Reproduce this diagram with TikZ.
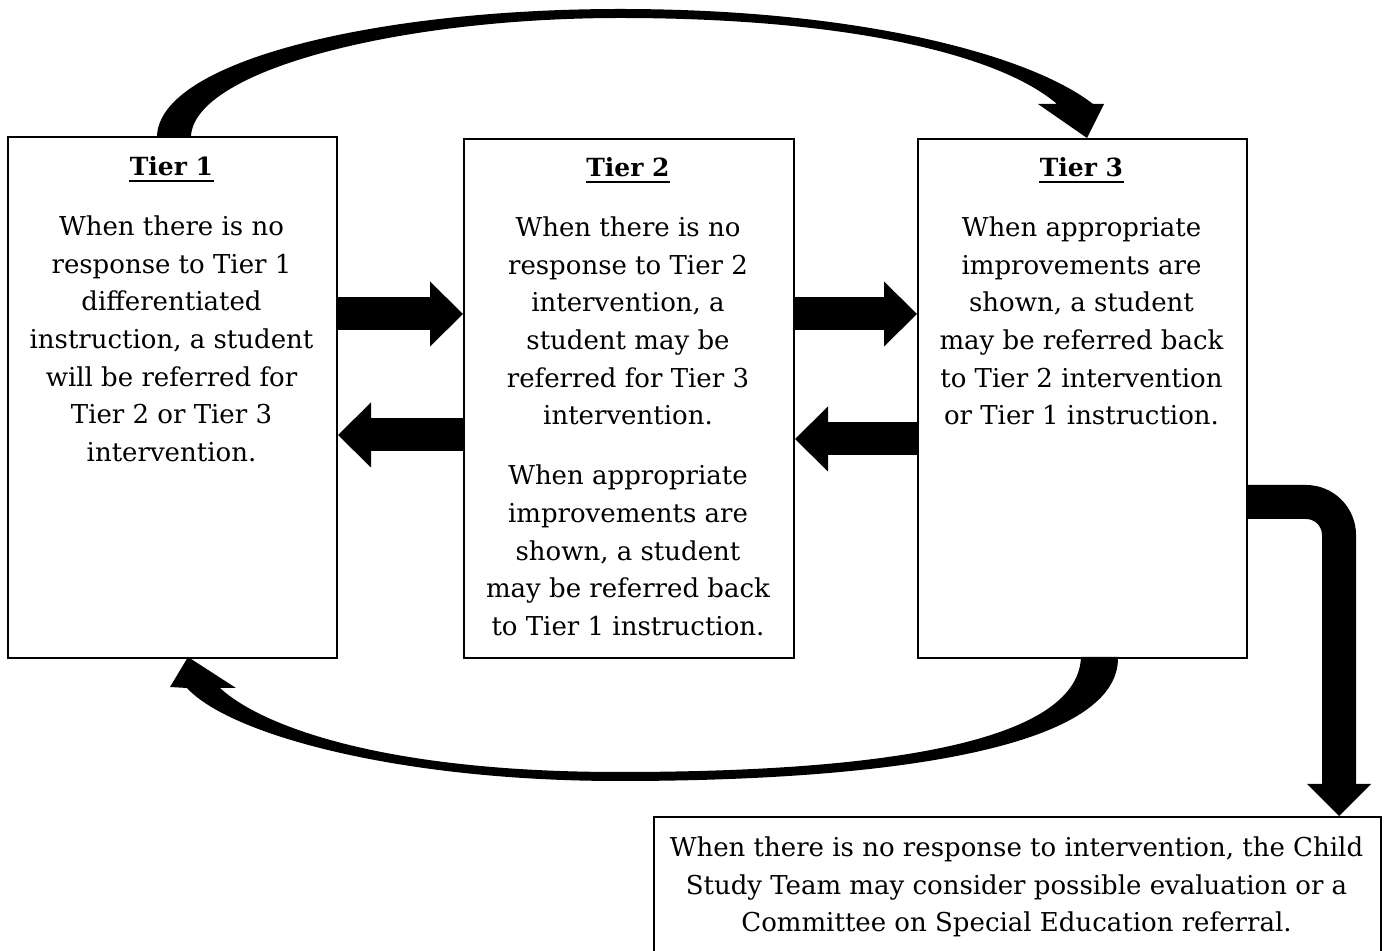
\documentclass[tikz,border=0pt]{standalone}
\usepackage{fontspec}
\setmainfont{DejaVu Serif}
\usetikzlibrary{arrows.meta,calc}
\tikzset{
  box/.style={draw, line width=1pt, inner sep=0pt, anchor=north west},
  tiertitle/.style={font=\bfseries\fontsize{12.5}{15}\selectfont, inner sep=0pt, anchor=base},
  body/.style={font=\fontsize{13}{18.85}\selectfont, inner sep=0pt, anchor=north, align=center},
  blockarrow/.style={line width=16.5pt, -{Triangle[length=16.5pt,width=32.5pt,line width=0pt]}},
  elbowarrow/.style={line width=17pt, rounded corners=16.5pt, -{Triangle[length=16pt,width=32pt,line width=0pt]}},
  taper/.style={fill=black, draw=none},
  uline/.style={line width=1pt},
}
\begin{document}
\begin{tikzpicture}[x=0.5pt,y=-0.5pt]
\clip (0,0) rectangle (1388,951);
\fill[white] (0,0) rectangle (1388,951);

% boxes
\node[box, minimum width=164.5pt, minimum height=260.5pt] (t1) at (7,136) {};
\node[box, minimum width=165pt, minimum height=259.5pt] (t2) at (463,138) {};
\node[box, minimum width=164.5pt, minimum height=259.5pt] (t3) at (917,138) {};
\node[box, minimum width=363.5pt, minimum height=80pt] (bot) at (653,816) {};

% titles
\node[tiertitle] (t1t) at (171.5,176) {Tier 1};
\node[tiertitle] (t2t) at (628,177) {Tier 2};
\node[tiertitle] (t3t) at (1081.5,177) {Tier 3};
\draw[uline] ($(t1t.base west)+(0,5)$) -- ($(t1t.base east)+(0,5)$);
\draw[uline] ($(t2t.base west)+(0,5)$) -- ($(t2t.base east)+(0,5)$);
\draw[uline] ($(t3t.base west)+(0,5)$) -- ($(t3t.base east)+(0,5)$);

% texts
\node[body] (t1b) at (171.5,208.6) {\strut When there is no\\ response to Tier 1\\ differentiated\\ instruction, a student\\ will be referred for\\ Tier 2 or Tier 3\\ intervention.};
\node[body] (t2b) at (628,209.6) {\strut When there is no\\ response to Tier 2\\ intervention, a\\ student may be\\ referred for Tier 3\\ intervention.};
\node[body] (t2c) at (628,458) {\strut When appropriate\\ improvements are\\ shown, a student\\ may be referred back\\ to Tier 1 instruction.};
\node[body] (t3b) at (1081.5,209.6) {\strut When appropriate\\ improvements are\\ shown, a student\\ may be referred back\\ to Tier 2 intervention\\ or Tier 1 instruction.};
\node[body] (botb) at (1016.5,829.6) {\strut When there is no response to intervention, the Child\\ Study Team may consider possible evaluation or a\\ Committee on Special Education referral.};

% straight block arrows
\draw[blockarrow] (t1.east |- 0,314) -- (t2.west |- 0,314);
\draw[blockarrow] (t2.west |- 0,435) -- (t1.east |- 0,435);
\draw[blockarrow] (t2.east |- 0,314) -- (t3.west |- 0,314);
\draw[blockarrow] (t3.west |- 0,439) -- (t2.east |- 0,439);

% elbow arrow to bottom box
\draw[elbowarrow] (t3.east |- 0,502) -| (1339,0 |- bot.north);

% top tapered curved arrow (Tier 1 -> Tier 3)
\fill[taper] (157,136) .. controls (160,60) and (380,9) .. (620,9)
  .. controls (860,9) and (1030,55) .. (1093,104)
  -- (1104,104) -- (1087,138) -- (1038,104) -- (1057,104)
  .. controls (1000,55) and (850,18) .. (620,18)
  .. controls (400,18) and (195,70) .. (191,136) -- cycle;

% bottom tapered curved arrow (Tier 3 -> Tier 1)
\fill[taper] (1118,657) .. controls (1120,750) and (880,781) .. (619,781)
  .. controls (400,781) and (230,735) .. (187,688)
  -- (170,687) -- (188,657) -- (236,688) -- (220,688)
  .. controls (260,725) and (380,772) .. (619,772)
  .. controls (870,772) and (1078,745) .. (1081,657) -- cycle;
\end{tikzpicture}
\end{document}
